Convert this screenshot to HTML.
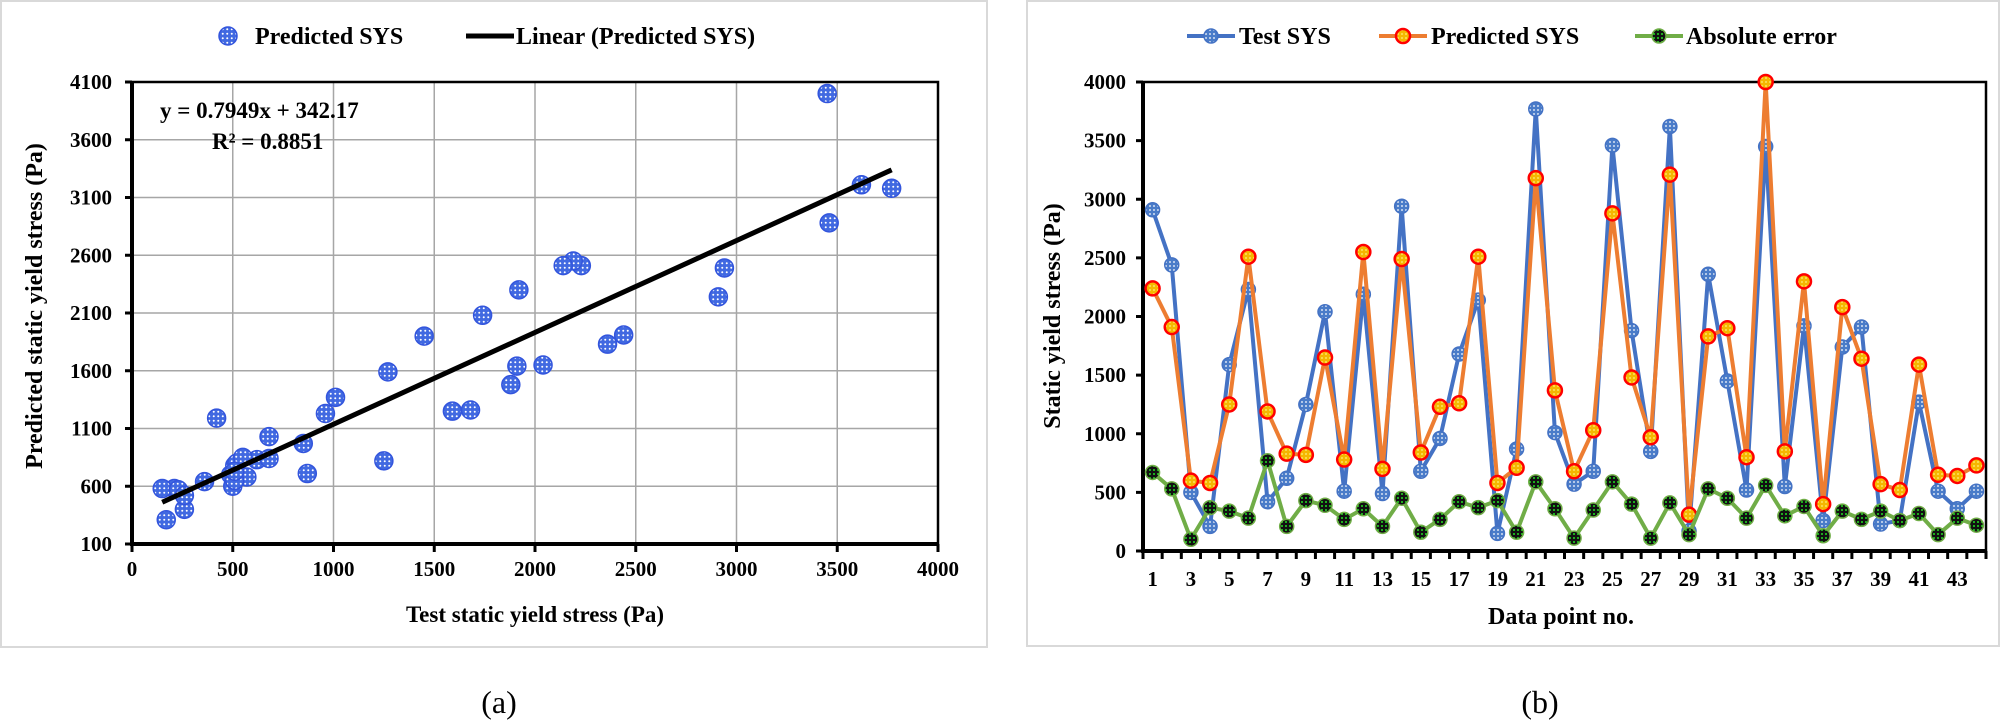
<!DOCTYPE html>
<html><head><meta charset="utf-8">
<style>
html,body{margin:0;padding:0;background:#fff;}
svg{display:block;font-family:"Liberation Serif",serif;}
.b{font-weight:bold;}
</style></head>
<body>
<svg id="fig" width="2000" height="728" viewBox="0 0 2000 728" xmlns="http://www.w3.org/2000/svg">
<defs>
<pattern id="dots" width="4.5" height="4.5" patternUnits="userSpaceOnUse">
<rect width="4.5" height="4.5" fill="#4169e1"/><circle cx="2.25" cy="2.25" r="1" fill="#fff"/>
</pattern>
<pattern id="dotsB" width="4" height="4" patternUnits="userSpaceOnUse">
<rect width="4" height="4" fill="#4a7cc9"/><circle cx="2" cy="2" r="0.9" fill="#fff"/>
</pattern>
<pattern id="dotsO" width="4" height="4" patternUnits="userSpaceOnUse">
<rect width="4" height="4" fill="#f5b700"/><circle cx="2" cy="2" r="0.9" fill="#ffef80"/>
</pattern>
<pattern id="dotsG" width="4" height="4" patternUnits="userSpaceOnUse">
<rect width="4" height="4" fill="#111"/><circle cx="2" cy="2" r="1" fill="#22dd22"/>
</pattern>
</defs>
<rect x="1" y="1" width="986" height="646" fill="#fff" stroke="#d9d9d9" stroke-width="2"/>
<rect x="1027" y="1" width="972" height="645" fill="#fff" stroke="#d9d9d9" stroke-width="2"/>
<g id="ga"></g>
<g id="gb"></g>
<text x="499" y="713" font-size="32" text-anchor="middle">(a)</text>
<text x="1540" y="713" font-size="32" text-anchor="middle">(b)</text>
</svg>
<script>
const testSYS=[2910,2440,500,210,1590,2230,420,620,1250,2040,510,2190,490,2940,680,960,1680,2140,150,870,3770,1010,570,680,3460,1880,850,3620,170,2360,1450,520,3450,550,1920,260,1740,1910,230,260,1270,510,360,510];
const predSYS=[2240,1910,600,580,1250,2510,1190,830,820,1650,780,2550,700,2490,840,1230,1260,2510,580,710,3180,1370,680,1030,2880,1480,970,3210,310,1830,1900,800,4000,850,2300,400,2080,1640,570,520,1590,650,640,730];
const absErr=[670,530,100,370,340,280,770,210,430,390,270,360,210,450,160,270,420,370,430,160,590,360,110,350,590,400,110,410,140,530,450,280,560,300,380,130,340,270,340,260,320,140,280,220];
const xTicksA=[0,500,1000,1500,2000,2500,3000,3500,4000];
const yTicksA=[100,600,1100,1600,2100,2600,3100,3600,4100];
const yTicksB=[0,500,1000,1500,2000,2500,3000,3500,4000];
const slope=0.7949, intercept=342.17;

const NS="http://www.w3.org/2000/svg";
function mk(parent,tag,attrs,txt){const e=document.createElementNS(NS,tag);for(const k in attrs)e.setAttribute(k,attrs[k]);if(txt!==undefined)e.textContent=txt;parent.appendChild(e);return e;}

// ---------- Chart A ----------
const ga=document.getElementById('ga');
const AX0=132,AX1=938,AY0=544,AY1=82;
const ax=v=>AX0+(v-0)/(4000-0)*(AX1-AX0);
const ay=v=>AY0-(v-100)/(4100-100)*(AY0-AY1);
xTicksA.forEach(t=>{
  if(t>0&&t<4000){const l=mk(ga,'line',{x1:ax(t),x2:ax(t),y1:AY1,y2:AY0,stroke:'#a6a6a6','stroke-width':1.5});
  
  }
  const tk=mk(ga,'line',{x1:ax(t),x2:ax(t),y1:AY0,y2:AY0+8,stroke:'#000','stroke-width':3});
  
  
  const tl=mk(ga,'text',{x:ax(t),y:576,'font-size':21,'text-anchor':'middle','class':'b'},t);
  
  
});
yTicksA.forEach(t=>{
  if(t>100&&t<4100){const l=mk(ga,'line',{x1:AX0,x2:AX1,y1:ay(t),y2:ay(t),stroke:'#a6a6a6','stroke-width':1.5});
  
  }
  const tk=mk(ga,'line',{x1:AX0-7,x2:AX0,y1:ay(t),y2:ay(t),stroke:'#000','stroke-width':3});
  
  
  const tl=mk(ga,'text',{x:112,y:ay(t)+7,'font-size':21,'text-anchor':'end','class':'b'},t);
  
  
});
const pa=mk(ga,'rect',{x:AX0,y:AY1,width:AX1-AX0,height:AY0-AY1,fill:'none',stroke:'#000','stroke-width':2.5});


const axA=mk(ga,'path',{d:`M${AX0} ${AY1}V${AY0}H${AX1}`,fill:'none',stroke:'#000','stroke-width':4});


testSYS.forEach((x,i)=>{
  const c=mk(ga,'circle',{cx:ax(x),cy:ay(predSYS[i]),r:9,fill:'url(#dots)',stroke:'#3355dd','stroke-width':1.5});
  
  
});
const xmin=Math.min(...testSYS),xmax=Math.max(...testSYS);
const tr=mk(ga,'line',{x1:ax(xmin),y1:ay(slope*xmin+intercept),x2:ax(xmax),y2:ay(slope*xmax+intercept),stroke:'#000','stroke-width':5});


let t1=mk(ga,'text',{x:160,y:118,'font-size':23,'class':'b'},'y = 0.7949x + 342.17');


t1=mk(ga,'text',{x:212,y:149,'font-size':23,'class':'b'},'R² = 0.8851');


t1=mk(ga,'text',{x:535,y:622,'font-size':23,'text-anchor':'middle','class':'b'},'Test static yield stress (Pa)');


t1=mk(ga,'text',{x:0,y:0,'font-size':24,'text-anchor':'middle','class':'b',transform:'translate(42,306) rotate(-90)'},'Predicted static yield stress (Pa)');


// legend A
let lg=mk(ga,'g',{});


mk(lg,'circle',{cx:228,cy:36,r:9,fill:'url(#dots)',stroke:'#3355dd','stroke-width':1.5});
mk(lg,'text',{x:255,y:44,'font-size':24,'class':'b'},'Predicted SYS');
lg=mk(ga,'g',{});


mk(lg,'line',{x1:466,x2:514,y1:36,y2:36,stroke:'#000','stroke-width':5});
mk(lg,'text',{x:516,y:44,'font-size':24,'class':'b'},'Linear (Predicted SYS)');

// ---------- Chart B ----------
const gb=document.getElementById('gb');
const BX0=1143,BX1=1986,BY0=551,BY1=82,N=testSYS.length;
const bw=(BX1-BX0)/N;
const bx=i=>BX0+bw*(i+0.5);
const by=v=>BY0-(v-0)/(4000-0)*(BY0-BY1);
yTicksB.forEach(t=>{
  const tk=mk(gb,'line',{x1:BX0-7,x2:BX0,y1:by(t),y2:by(t),stroke:'#000','stroke-width':3});
  
  
  const tl=mk(gb,'text',{x:1126,y:by(t)+7,'font-size':21,'text-anchor':'end','class':'b'},t);
  
  
});
for(let i=0;i<=N;i++){
  const tk=mk(gb,'line',{x1:BX0+bw*i,x2:BX0+bw*i,y1:BY0,y2:BY0+8,stroke:'#000','stroke-width':3});
  
  
}
for(let i=0;i<N;i+=2){
  const tl=mk(gb,'text',{x:bx(i),y:586,'font-size':21,'text-anchor':'middle','class':'b'},i+1);
  
  
}
const pb=mk(gb,'rect',{x:BX0,y:BY1,width:BX1-BX0,height:BY0-BY1,fill:'none',stroke:'#000','stroke-width':2.5});


const axB=mk(gb,'path',{d:`M${BX0} ${BY1}V${BY0}H${BX1}`,fill:'none',stroke:'#000','stroke-width':4});


const series=[
 {d:testSYS,line:'#4472c4',fill:'url(#dotsB)',st:'#4472c4',sw:1.5,name:'test-sys'},
 {d:predSYS,line:'#ed7d31',fill:'url(#dotsO)',st:'#ff0000',sw:2.5,name:'predicted-sys'},
 {d:absErr,line:'#70ad47',fill:'url(#dotsG)',st:'#70ad47',sw:1.5,name:'absolute-error'}
];
series.forEach(s=>{
  const p=mk(gb,'polyline',{points:s.d.map((v,i)=>bx(i)+','+by(v)).join(' '),fill:'none',stroke:s.line,'stroke-width':4,'stroke-linejoin':'round'});
  
  
  s.d.forEach((v,i)=>{
    const c=mk(gb,'circle',{cx:bx(i),cy:by(v),r:7,fill:s.fill,stroke:s.st,'stroke-width':s.sw});
    
    
  });
});
t1=mk(gb,'text',{x:1561,y:624,'font-size':24,'text-anchor':'middle','class':'b'},'Data point no.');


t1=mk(gb,'text',{x:0,y:0,'font-size':24,'text-anchor':'middle','class':'b',transform:'translate(1060,316) rotate(-90)'},'Static yield stress (Pa)');


const legB=[[1187,1239,'Test SYS',0],[1379,1431,'Predicted SYS',1],[1635,1686,'Absolute error',2]];
legB.forEach(l=>{
  const s=series[l[3]];
  const g=mk(gb,'g',{});
  
  
  mk(g,'line',{x1:l[0],x2:l[0]+48,y1:36,y2:36,stroke:s.line,'stroke-width':4});
  mk(g,'circle',{cx:l[0]+24,cy:36,r:7,fill:s.fill,stroke:s.st,'stroke-width':s.sw});
  mk(g,'text',{x:l[1],y:44,'font-size':24,'class':'b'},l[2]);
});
</script>
</body></html>
